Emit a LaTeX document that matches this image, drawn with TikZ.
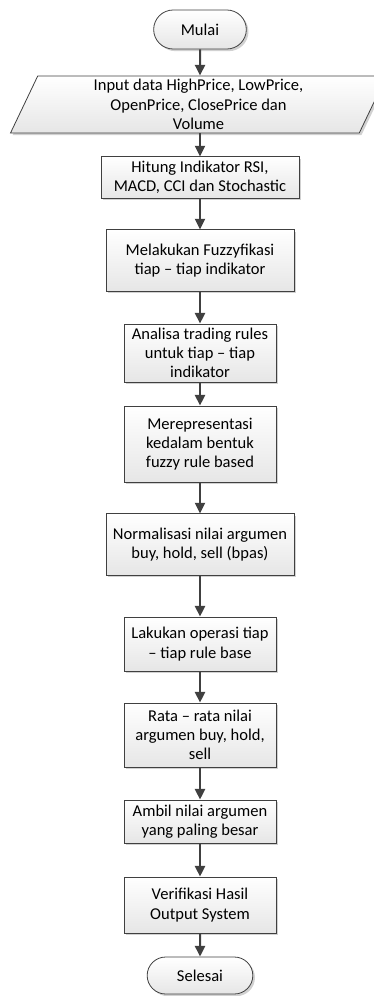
\documentclass[tikz,border=0pt]{standalone}
\usepackage{fontspec}
\setmainfont{Carlito}
\usetikzlibrary{shapes.geometric,shapes.misc,shadows,arrows.meta}
\definecolor{lineclr}{HTML}{404040}
\definecolor{boxclr}{HTML}{E6E6E6}

\begin{document}
\begin{tikzpicture}[x=0.75pt,y=-0.75pt,
    every node/.style={font=\fontsize{12.4}{14.4}\selectfont, align=center, inner sep=2pt},
    boxbase/.style={draw=lineclr, line width=0.6pt, top color=white, bottom color=boxclr,
        drop shadow={shadow xshift=1.6pt, shadow yshift=-1.6pt, fill=black, opacity=0.18}},
    proc/.style={boxbase, rectangle},
    term/.style={boxbase, rounded rectangle},
    inout/.style={boxbase, trapezium, trapezium left angle=63.8, trapezium right angle=116.2,
        trapezium stretches body=true},
    flow/.style={draw=lineclr, line width=1.5pt, -{Triangle[length=8pt, width=7.5pt]}}]

    \useasboundingbox (0,0) rectangle (374,996);

    % start and input
    \node[term, minimum width=73.5pt, minimum height=29.25pt] (mulai) at (200,29.5) {Mulai};
    \node[inout, minimum width=282pt, minimum height=42.75pt] (input) at (198.5,104.5)
        {Input data HighPrice, LowPrice,\\OpenPrice, ClosePrice dan\\Volume};

    % process steps
    \node[proc, minimum width=148.5pt, minimum height=31pt] (hitung) at (200,177.5)
        {Hitung Indikator RSI,\\MACD, CCI dan Stochastic};
    \node[proc, minimum width=141pt, minimum height=46pt] (fuzzy) at (200,260.5)
        {Melakukan Fuzzyfikasi\\tiap -- tiap indikator};
    \node[proc, minimum width=114pt, minimum height=43.5pt] (analisa) at (200,353)
        {Analisa trading rules\\untuk tiap -- tiap\\indikator};
    \node[proc, minimum width=114pt, minimum height=57pt] (repr) at (200,444)
        {Merepresentasi\\kedalam bentuk\\fuzzy rule based};
    \node[proc, minimum width=141pt, minimum height=46pt] (norm) at (200,544.5)
        {Normalisasi nilai argumen\\buy, hold, sell (bpas)};
    \node[proc, minimum width=114pt, minimum height=40.5pt] (operasi) at (200,644)
        {Lakukan operasi tiap\\-- tiap rule base};
    \node[proc, minimum width=114pt, minimum height=48pt] (rata) at (200,735)
        {Rata -- rata nilai\\argumen buy, hold,\\sell};
    \node[proc, minimum width=114pt, minimum height=32.25pt] (ambil) at (200,821.5)
        {Ambil nilai argumen\\yang paling besar};
    \node[proc, minimum width=114pt, minimum height=42pt] (verif) at (200,905)
        {Verifikasi Hasil\\Output System};

    % end
    \node[term, minimum width=83.25pt, minimum height=27.75pt] (selesai) at (200,975.5) {Selesai};

    \draw[flow] (mulai) -- (mulai |- input.north);
    \draw[flow] (mulai |- input.south) -- (hitung);
    \draw[flow] (hitung) -- (fuzzy);
    \draw[flow] (fuzzy) -- (analisa);
    \draw[flow] (analisa) -- (repr);
    \draw[flow] (repr) -- (norm);
    \draw[flow] (norm) -- (operasi);
    \draw[flow] (operasi) -- (rata);
    \draw[flow] (rata) -- (ambil);
    \draw[flow] (ambil) -- (verif);
    \draw[flow] (verif) -- (selesai);

\end{tikzpicture}
\end{document}
